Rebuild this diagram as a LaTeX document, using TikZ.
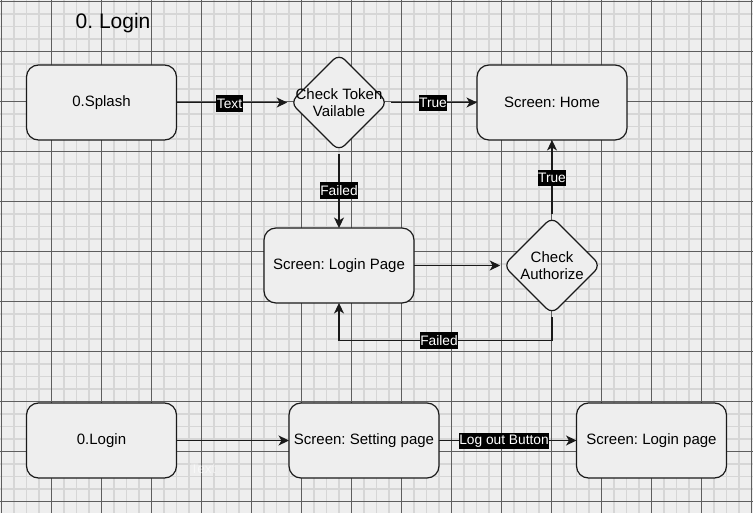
\documentclass[tikz,border=0pt]{standalone}
\usepackage{fontspec}
\setmainfont{Liberation Sans}
\frenchspacing
\usetikzlibrary{shapes.geometric,arrows.meta}
\definecolor{bgc}{HTML}{EEEEEE}
\definecolor{minorc}{HTML}{D6D6D6}
\definecolor{majorc}{HTML}{5E5E5E}
\definecolor{boxfill}{HTML}{EEEEEE}
\definecolor{edgec}{HTML}{1A1A1A}
\tikzset{
  box/.style={draw=edgec, fill=boxfill, line width=1.2pt, rounded corners=12pt,
    minimum width=150pt, minimum height=75pt, inner sep=0pt, outer sep=0pt,
    font=\fontsize{15}{18}\selectfont, align=center},
  dia/.style={shape=diamond, draw=edgec, fill=boxfill, line width=1.2pt, rounded corners=8pt,
    minimum width=97pt, minimum height=97pt, inner sep=0pt, outer sep=0pt},
  diatext/.style={font=\fontsize{15}{17.5}\selectfont, align=center, inner sep=0pt},
  arr/.style={draw=edgec, line width=1.25pt, -{Stealth[length=10.5pt,width=10pt,inset=3pt]}},
  lab/.style={fill=black, text=white, font=\fontsize{13.75}{16}\selectfont,
    inner xsep=0.5pt, inner ysep=0pt, minimum height=16.5pt},
  ghost/.style={text=white, text opacity=0.55, font=\fontsize{13.75}{16}\selectfont, inner sep=0pt},
}
\begin{document}
\begin{tikzpicture}[x=1pt,y=-1pt]
\useasboundingbox (0,0) rectangle (753,513);
\fill[bgc] (0,0) rectangle (753,513);
% minor grid
\foreach \i in {0,...,61}{
  \draw[minorc, line width=1.6pt] ({1.5+12.5*\i},0) -- ({1.5+12.5*\i},513);
}
\foreach \j in {0,...,41}{
  \draw[minorc, line width=1.6pt] (0,{1.5+12.5*\j}) -- (753,{1.5+12.5*\j});
}
% major grid
\foreach \i in {0,...,15}{
  \draw[majorc, line width=1pt] ({1.5+50*\i},0) -- ({1.5+50*\i},513);
}
\foreach \j in {0,...,10}{
  \draw[majorc, line width=1pt] (0,{1.5+50*\j}) -- (753,{1.5+50*\j});
}

% title
\node[anchor=base west, font=\fontsize{21}{24}\selectfont, inner sep=0pt] (title) at (75.5,28.3) {0. Login};

% nodes
\node[box] (splash) at (101.5,102.5) {0.Splash};
\node[dia] (d1) at (339,102.5) {};
\node[diatext] (d1t) at (339,102.5) {Check Token\\Vailable};
\node[box] (home) at (552,102.5) {Screen: Home};
\node[box] (lp) at (339,265.5) {Screen: Login Page};
\node[dia] (d2) at (552,265.5) {};
\node[diatext] (d2t) at (552,265.5) {Check\\Authorize};

\node[box] (login) at (101.5,440.5) {0.Login};
\node[box] (setting) at (364,440.5) {Screen: Setting page};
\node[box] (lp2) at (651.5,440.5) {Screen: Login page};

% edges
\draw[arr, shorten >=3.3pt] (splash.east) -- (d1.west);
\draw[arr, shorten <=3.3pt] (d1.east) -- (home.west);
\draw[arr, shorten <=3.3pt] (d1.south) -- (lp.north);
\draw[arr, shorten >=3.3pt] (lp.east) -- (d2.west);
\draw[arr, shorten <=3.3pt] (d2.north) -- (home.south);
\coordinate (c1) at (552,340.3);
\coordinate (c2) at (339,340.3);
\draw[arr, shorten <=3.3pt] (d2.south) -- (c1) -- (c2) -- (lp.south);
\draw[arr] (login.east) -- (setting.west);
\draw[arr] (setting.east) -- (lp2.west);

% labels
\node[lab] (l1) at (229.5,103.5) {Text};
\node[lab] (l2) at (433,102.8) {True};
\node[lab] (l3) at (339,190.3) {Failed};
\node[lab] (l4) at (552,178) {True};
\node[lab] (l5) at (439,340.3) {Failed};
\node[lab] (l6) at (504,440.8) {Log out Button};
\node[ghost] (l7) at (203,469) {Text};
\end{tikzpicture}
\end{document}
